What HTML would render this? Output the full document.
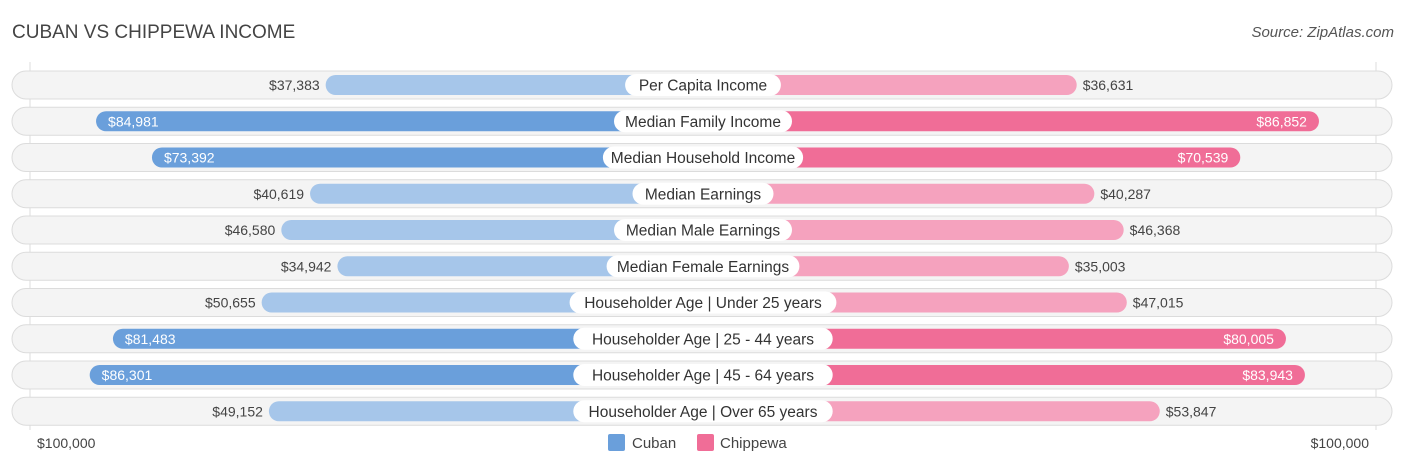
<!DOCTYPE html>
<html><head><meta charset="utf-8"><style>
body{margin:0;width:1406px;height:467px;background:#fff;font-family:"Liberation Sans",sans-serif;overflow:hidden;position:relative}
.t{position:absolute;white-space:nowrap}
</style></head><body>
<div class="t" style="left:12px;top:22px;font-size:19px;color:#444">CUBAN VS CHIPPEWA INCOME</div>
<div class="t" style="right:12px;top:24px;font-size:15px;color:#555;font-style:italic">Source: ZipAtlas.com</div>
<svg id="c" width="1406" height="467" style="position:absolute;left:0;top:0"></svg>
<script>
const categories=["Per Capita Income","Median Family Income","Median Household Income","Median Earnings","Median Male Earnings","Median Female Earnings","Householder Age | Under 25 years","Householder Age | 25 - 44 years","Householder Age | 45 - 64 years","Householder Age | Over 65 years"];
const cuban=[37383,84981,73392,40619,46580,34942,50655,81483,86301,49152];
const chippewa=[36631,86852,70539,40287,46368,35003,47015,80005,83943,53847];
const axisLabels=["$100,000","$100,000"];
const svg=document.getElementById('c');const NS='http://www.w3.org/2000/svg';
function mk(t,a,p){const e=document.createElementNS(NS,t);for(const k in a)e.setAttribute(k,a[k]);(p||svg).appendChild(e);return e;}
const cx=703;
function w(v){return 197+v*0.004824;}
function y(i){return 85+i*36.25;}
const fmt=v=>'$'+v.toLocaleString('en-US');
mk('line',{x1:30,y1:62,x2:30,y2:430,stroke:'#ddd'});
mk('line',{x1:1376,y1:62,x2:1376,y2:430,stroke:'#ddd'});
categories.forEach((c,i)=>{
 const yc=y(i);
 const bg=mk('rect',{x:12,y:yc-14,width:1380,height:28,rx:14,fill:'#f4f4f4',stroke:'#dcdcdc'});
 
 const strongC=cuban[i]>60000, strongP=chippewa[i]>60000;
 const wc=w(cuban[i]);
 const b1=mk('rect',{x:cx-wc,y:yc-10,width:wc,height:20,rx:10,fill:strongC?'#6a9fdb':'#a6c6ea'});
 
 const wp=w(chippewa[i]);
 const b2=mk('rect',{x:cx,y:yc-10,width:wp,height:20,rx:10,fill:strongP?'#f06d97':'#f5a2be'});
 
 let t=mk('text',{x:strongC?cx-wc+12:cx-wc-6,y:yc+5,'font-size':14,fill:strongC?'#fff':'#444','text-anchor':strongC?'start':'end'});t.textContent=fmt(cuban[i]);
 
 t=mk('text',{x:strongP?cx+wp-12:cx+wp+6,y:yc+5,'font-size':14,fill:strongP?'#fff':'#444','text-anchor':strongP?'end':'start'});t.textContent=fmt(chippewa[i]);
 
 const lw=c.length*7.4+30;
 const lb=mk('rect',{x:cx-lw/2,y:yc-11,width:lw,height:22,rx:11,fill:'#fff'});
 
 t=mk('text',{x:cx,y:yc+5.5,'font-size':15.5,fill:'#333','text-anchor':'middle'});t.textContent=c;
 
});
let a=mk('text',{x:37,y:448,'font-size':14,fill:'#444'});a.textContent=axisLabels[0];

a=mk('text',{x:1369,y:448,'font-size':14,fill:'#444','text-anchor':'end'});a.textContent=axisLabels[1];

let l=mk('rect',{x:608,y:434,width:17,height:17,rx:2,fill:'#6a9fdb'});
a=mk('text',{x:632,y:448,'font-size':15,fill:'#444'});a.textContent='Cuban';
l=mk('rect',{x:697,y:434,width:17,height:17,rx:2,fill:'#f06d97'});
a=mk('text',{x:720,y:448,'font-size':15,fill:'#444'});a.textContent='Chippewa';
</script>
</body></html>
